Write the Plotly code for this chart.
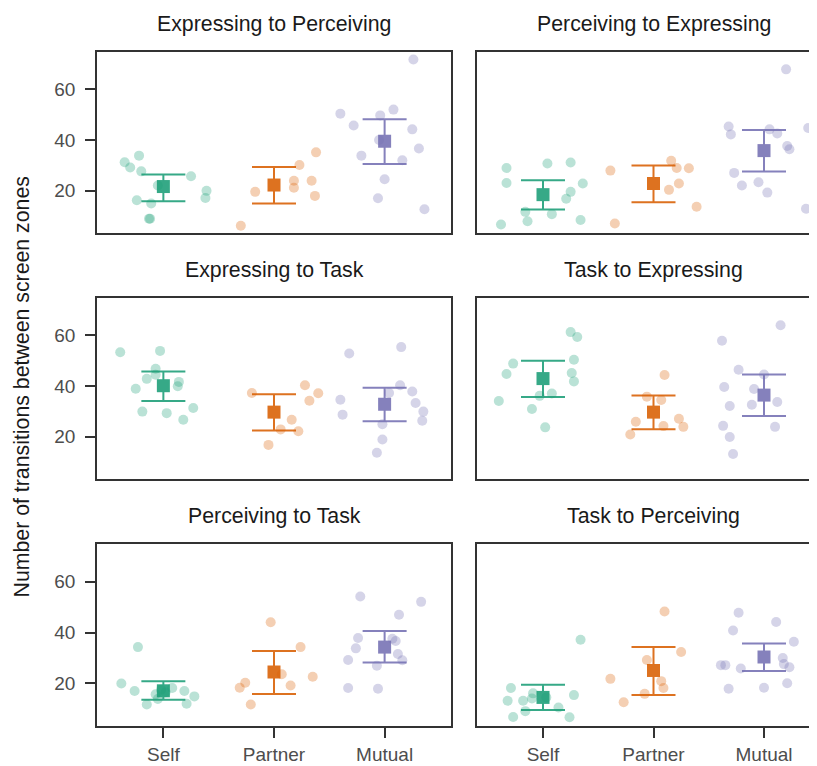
import plotly.graph_objects as go

groups = ["Self", "Partner", "Mutual"]
colors = ["#1B9E77", "#D95F02", "#7570B3"]
panel_titles = ["Expressing to Perceiving", "Perceiving to Expressing",
                "Expressing to Task", "Task to Expressing",
                "Perceiving to Task", "Task to Perceiving"]
y_title = "Number of transitions between screen zones"
y_ticks = [20, 40, 60]

# ---- Expressing to Perceiving ----
ep_values = [[31.2, 33.8, 29.1, 27.6, 25.7, 22.0, 19.9, 17.1, 16.2, 14.9, 8.9, 8.9],
             [35.1, 30.1, 23.9, 23.9, 21.1, 19.5, 17.9, 6.1],
             [71.8, 50.4, 52.0, 49.7, 45.7, 44.2, 36.6, 40.0, 33.8, 32.0, 24.5, 17.0, 12.6]]
ep_jitter = [[-0.35, -0.22, -0.30, -0.20, 0.25, -0.05, 0.39, 0.38, -0.24, -0.11, -0.12, -0.13],
             [0.38, 0.23, 0.18, 0.34, 0.18, -0.17, 0.37, -0.30],
             [0.26, -0.40, 0.08, -0.04, -0.28, 0.25, 0.31, -0.05, -0.21, 0.16, 0.0, -0.06, 0.36]]
ep_mean = [21.6, 22.2, 39.5]
ep_hi = [26.4, 29.3, 48.2]
ep_lo = [15.8, 14.9, 30.5]

# ---- Perceiving to Expressing ----
pe_values = [[28.9, 30.7, 31.1, 23.0, 22.8, 19.5, 16.8, 11.6, 10.7, 7.9, 8.4, 6.6],
             [31.8, 28.9, 28.8, 27.9, 22.8, 20.3, 13.6, 7.0],
             [67.9, 45.3, 42.2, 44.2, 42.6, 44.7, 37.6, 36.3, 27.0, 22.0, 23.3, 19.2, 12.8]]
pe_jitter = [[-0.33, 0.04, 0.25, -0.33, 0.36, 0.25, 0.21, -0.16, 0.08, -0.14, 0.34, -0.38],
             [0.16, 0.21, 0.32, -0.39, 0.23, 0.14, 0.39, -0.35],
             [0.20, -0.32, -0.30, 0.05, 0.12, 0.40, 0.21, 0.23, -0.27, -0.20, -0.05, 0.03, 0.38]]
pe_mean = [18.4, 22.8, 35.8]
pe_hi = [24.1, 29.9, 43.9]
pe_lo = [12.5, 15.4, 27.5]

# ---- Expressing to Task ----
et_values = [[53.3, 53.8, 46.8, 44.4, 42.8, 41.6, 39.9, 38.9, 31.3, 29.9, 29.3, 26.7],
             [40.3, 37.1, 37.2, 34.2, 26.7, 22.9, 22.2, 16.8],
             [55.3, 52.8, 40.3, 37.2, 37.8, 34.6, 33.3, 29.9, 26.3, 28.7, 24.9, 18.9, 13.7]]
et_jitter = [[-0.39, -0.03, -0.07, -0.07, -0.15, 0.14, 0.13, -0.25, 0.27, -0.19, 0.03, 0.18],
             [0.28, 0.40, -0.20, 0.32, 0.16, 0.06, 0.22, -0.05],
             [0.15, -0.32, 0.14, 0.04, 0.25, -0.40, 0.28, 0.35, 0.34, -0.38, -0.02, -0.02, -0.07]]
et_mean = [40.1, 29.7, 32.8]
et_hi = [45.7, 36.7, 39.3]
et_lo = [34.1, 22.5, 26.1]

# ---- Task to Expressing ----
te_values = [[61.2, 59.3, 50.3, 48.8, 44.7, 45.1, 41.8, 37.0, 36.1, 34.1, 30.9, 23.7],
             [44.3, 35.8, 34.5, 25.9, 27.1, 24.2, 23.9, 20.9],
             [63.9, 57.8, 46.4, 44.5, 39.6, 38.8, 32.1, 32.6, 33.7, 24.3, 23.9, 19.9, 13.2]]
te_jitter = [[0.25, 0.31, 0.28, -0.27, -0.33, 0.26, 0.28, 0.08, -0.03, -0.40, -0.10, 0.02],
             [0.10, -0.06, 0.07, -0.16, 0.23, 0.09, 0.27, -0.21],
             [0.15, -0.38, -0.23, 0.0, -0.36, -0.09, -0.31, -0.11, 0.12, -0.37, 0.10, -0.31, -0.28]]
te_mean = [42.9, 29.7, 36.4]
te_hi = [49.9, 36.2, 44.5]
te_lo = [35.7, 23.0, 28.2]

# ---- Perceiving to Task ----
pt_values = [[34.3, 20.0, 17.0, 18.2, 17.0, 14.9, 15.7, 13.9, 11.7, 12.0, 16.5, 17.5],
             [44.1, 34.3, 22.6, 23.6, 19.2, 20.3, 18.3, 11.7],
             [54.2, 52.1, 47.0, 37.9, 37.6, 36.7, 33.8, 31.6, 29.1, 29.2, 27.0, 18.2, 17.9]]
pt_jitter = [[-0.23, -0.38, -0.26, 0.08, 0.19, 0.28, -0.07, -0.05, -0.15, 0.21, 0.02, -0.02],
             [-0.03, 0.24, 0.35, 0.07, 0.15, -0.26, -0.31, -0.21],
             [-0.22, 0.33, 0.13, -0.24, 0.07, 0.10, -0.26, 0.12, 0.16, -0.33, -0.07, -0.33, -0.06]]
pt_mean = [17.1, 24.5, 34.3]
pt_hi = [20.9, 32.8, 40.6]
pt_lo = [13.6, 15.8, 28.2]

# ---- Task to Perceiving ----
tp_values = [[37.2, 18.2, 15.4, 16.1, 13.2, 13.2, 14.1, 9.1, 10.5, 6.8, 6.7, 14.5],
             [48.3, 32.4, 29.2, 21.8, 20.9, 18.2, 15.9, 12.6],
             [47.8, 44.2, 40.8, 36.4, 30.0, 27.6, 26.4, 27.2, 27.2, 25.9, 20.1, 17.9, 18.3]]
tp_jitter = [[0.34, -0.29, 0.28, -0.09, -0.18, -0.32, -0.10, -0.16, 0.14, -0.27, 0.24, 0.03],
             [0.10, 0.25, -0.06, -0.39, 0.07, 0.09, -0.08, -0.27],
             [-0.23, 0.11, -0.28, 0.27, 0.17, 0.18, 0.23, -0.39, -0.35, -0.21, 0.21, -0.32, 0.0]]
tp_mean = [14.5, 25.1, 30.4]
tp_hi = [19.5, 34.3, 35.7]
tp_lo = [9.5, 15.4, 24.9]

panels = [
    (ep_values, ep_jitter, ep_mean, ep_hi, ep_lo),
    (pe_values, pe_jitter, pe_mean, pe_hi, pe_lo),
    (et_values, et_jitter, et_mean, et_hi, et_lo),
    (te_values, te_jitter, te_mean, te_hi, te_lo),
    (pt_values, pt_jitter, pt_mean, pt_hi, pt_lo),
    (tp_values, tp_jitter, tp_mean, tp_hi, tp_lo),
]

# The page body has an 8px margin, so figure coordinates = window coordinates - 8
OFF = 8
W, H = 817 - OFF, 766 - OFF
FONT = "Liberation Sans"
LINE = "#333333"

# layout geometry (window pixels)
col_x = [(97, 451), (476.7, 817)]
col_xrange = [[0.4, 3.6], [0.4, 0.4 + (817 - 476.7) / 110.5]]
row_y = [(52, 233), (297.7, 479.3), (544.3, 726)]
title_x = [274, 653.5]


def px_x(v):
    return (v - OFF) / W


def px_y(v):
    return 1 - (v - OFF) / H


fig = go.Figure()
layout = {}
annotations = []

for i, (vals, jit, mean, hi, lo) in enumerate(panels):
    r, c = divmod(i, 2)
    n = i + 1
    xa = "x" if n == 1 else f"x{n}"
    ya = "y" if n == 1 else f"y{n}"
    for g in range(3):
        fig.add_trace(go.Scatter(
            x=[g + 1 + j for j in jit[g]], y=vals[g], mode="markers",
            marker=dict(size=10, color=colors[g], opacity=0.3, line=dict(width=0)),
            xaxis=xa, yaxis=ya, showlegend=False, hoverinfo="skip"))
    for g in range(3):
        fig.add_trace(go.Scatter(
            x=[g + 1], y=[mean[g]], mode="markers",
            marker=dict(size=13, symbol="square", color=colors[g], line=dict(width=0)),
            error_y=dict(type="data", symmetric=False,
                         array=[hi[g] - mean[g]], arrayminus=[mean[g] - lo[g]],
                         color=colors[g], thickness=2, width=22),
            opacity=0.88, xaxis=xa, yaxis=ya, showlegend=False))

    x0, x1 = col_x[c]
    y0, y1 = row_y[r]
    bottom = r == 2
    left = c == 0
    layout["xaxis" if n == 1 else f"xaxis{n}"] = dict(
        domain=[max(px_x(x0), 0), min(px_x(x1), 1)], range=col_xrange[c], anchor=ya,
        showgrid=False, zeroline=False, showline=True, linecolor=LINE,
        linewidth=1.6 if not bottom else 2, mirror=True,
        tickvals=[1, 2, 3] if bottom else [], ticktext=groups if bottom else [],
        ticks="outside" if bottom else "", ticklen=10, tickwidth=1.5, tickcolor=LINE,
        tickfont=dict(family=FONT, size=19, color="#4d4d4d"),
        fixedrange=True)
    layout["yaxis" if n == 1 else f"yaxis{n}"] = dict(
        domain=[px_y(y1), px_y(y0)], range=[3.25, 74.75], anchor=xa,
        showgrid=False, zeroline=False, showline=True, linecolor=LINE,
        linewidth=1.6, mirror=left,
        tickvals=y_ticks if left else [], ticks="outside" if left else "",
        ticklen=10, tickwidth=1.5, tickcolor=LINE, ticklabelstandoff=6,
        tickfont=dict(family=FONT, size=19, color="#4d4d4d"),
        fixedrange=True)
    annotations.append(dict(
        text=panel_titles[i], x=px_x(title_x[c]), y=px_y(y0 - 28),
        xref="paper", yref="paper", xanchor="center", yanchor="middle",
        showarrow=False, font=dict(family=FONT, size=21.3, color="#1a1a1a")))

annotations.append(dict(
    text=y_title, x=px_x(21), y=px_y(387.5), xref="paper", yref="paper",
    xanchor="center", yanchor="middle", textangle=-90, showarrow=False,
    font=dict(family=FONT, size=21.3, color="#1a1a1a")))

fig.update_layout(
    width=W, height=H, margin=dict(l=0, r=0, t=0, b=0),
    paper_bgcolor="white", plot_bgcolor="white",
    annotations=annotations, showlegend=False,
    font=dict(family=FONT), **layout)

fig.write_html("out.html")
